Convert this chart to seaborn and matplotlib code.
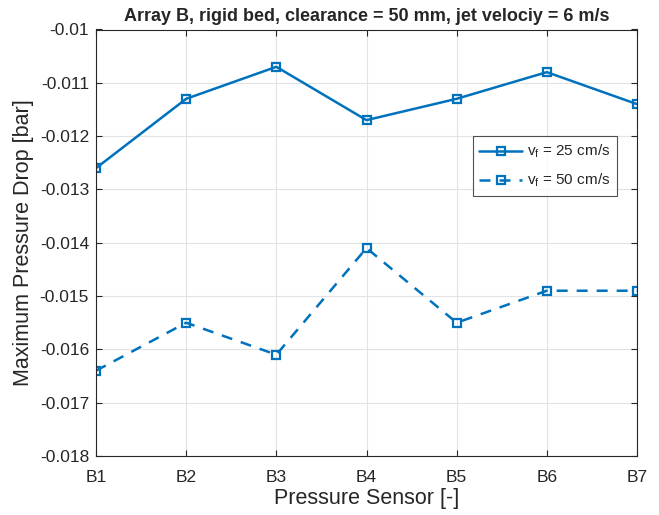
import numpy as np
import pandas as pd
import seaborn as sns
import matplotlib
matplotlib.use('Agg')
import matplotlib.pyplot as plt

sensors = ['B1', 'B2', 'B3', 'B4', 'B5', 'B6', 'B7']
drop_25 = [-0.0126, -0.0113, -0.0107, -0.0117, -0.0113, -0.0108, -0.0114]
drop_50 = [-0.0164, -0.0155, -0.0161, -0.0141, -0.0155, -0.0149, -0.0149]
labels = [r'v$_\mathrm{f}$ = 25 cm/s', r'v$_\mathrm{f}$ = 50 cm/s']
yticks = [-0.018, -0.017, -0.016, -0.015, -0.014, -0.013, -0.012, -0.011, -0.01]

sns.set_style('white')
plt.rcParams['font.family'] = ['Liberation Sans', 'DejaVu Sans']
plt.rcParams['mathtext.fontset'] = 'custom'
plt.rcParams['mathtext.rm'] = 'Liberation Sans'
plt.rcParams['mathtext.it'] = 'Liberation Sans:italic'

df = pd.DataFrame({
    'x': list(range(len(sensors))) * 2,
    'y': drop_25 + drop_50,
    'series': [labels[0]] * len(sensors) + [labels[1]] * len(sensors),
})

colour = '#0072BD'
fig = plt.figure(figsize=(6.59, 5.15), dpi=100, facecolor='w')
ax = fig.add_axes([96 / 659, 1 - 456 / 515, (637 - 96) / 659, (456 - 29.5) / 515])

sns.lineplot(data=df, x='x', y='y', style='series', ax=ax, color=colour,
             dashes={labels[0]: '', labels[1]: (4.4, 3.6)},
             markers={labels[0]: 's', labels[1]: 's'},
             markersize=6, markerfacecolor='none', markeredgecolor=colour,
             markeredgewidth=1.6, linewidth=1.8)

ax.set_xlim(0, len(sensors) - 1)
ax.set_ylim(-0.018, -0.01)
ax.set_xticks(range(len(sensors)))
ax.set_xticklabels(sensors)
ax.set_yticks(yticks)
ax.set_yticklabels(['{:g}'.format(v) for v in yticks])
ax.grid(True, color='#E3E3E3', linewidth=0.8)
ax.set_axisbelow(True)
for s in ax.spines.values():
    s.set_visible(True)
    s.set_color('#262626')
    s.set_linewidth(0.8)
ax.tick_params(axis='both', direction='in', length=4, width=0.8, color='#262626',
               labelsize=12.5, top=True, right=True, bottom=True, left=True)
ax.tick_params(axis='x', pad=10)
ax.tick_params(axis='y', pad=5)

ax.set_xlabel('Pressure Sensor [-]', fontsize=15.5, labelpad=2)
ax.set_ylabel('Maximum Pressure Drop [bar]', fontsize=15.5, labelpad=4)
ax.set_title('Array B, rigid bed, clearance = 50 mm, jet velociy = 6 m/s',
             fontsize=13, fontweight='bold', pad=6)

leg = ax.legend(loc='upper right', bbox_to_anchor=(0.963, 0.75), fontsize=11,
                frameon=True, fancybox=False, edgecolor='#262626', handlelength=2.8,
                handletextpad=0.3, borderpad=0.45, labelspacing=0.75, borderaxespad=0)
leg.get_frame().set_linewidth(0.8)
leg.set_title(None)

fig.savefig('out.png', dpi=100)
